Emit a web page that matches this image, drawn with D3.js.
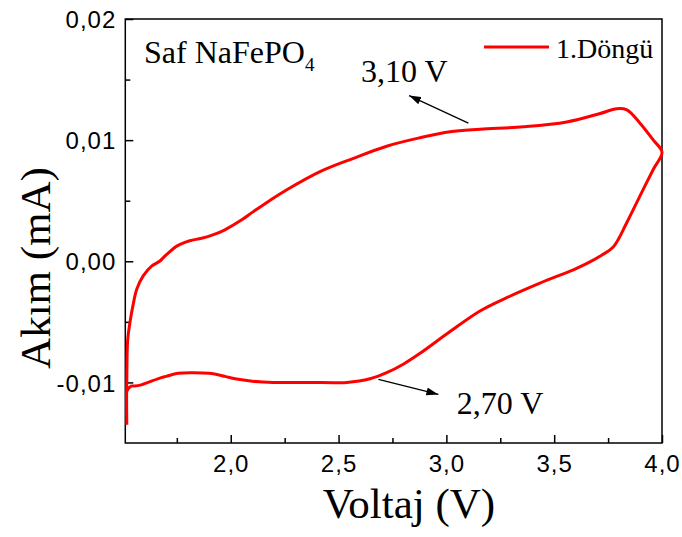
<!DOCTYPE html>
<html><head><meta charset="utf-8">
<script src="https://cdn.jsdelivr.net/npm/d3@7"></script>
<style>body{margin:0;background:#fff}svg{display:block}</style>
</head><body>
<svg id="c" width="682" height="537"></svg>
<script>
// Data (voltage in V, current in mA), one continuous CV loop
const voltage = [1.518,1.517,1.518,1.522,1.533,1.546,1.564,1.594,1.633,1.670,1.693,1.745,1.765,1.81,1.865,1.92,1.973,2.04,2.105,2.18,2.26,2.414,2.569,2.723,2.878,3.017,3.156,3.357,3.558,3.713,3.790,3.837,3.898,3.960,4.0,
  3.960,3.898,3.837,3.775,3.72,3.65,3.589,3.434,3.280,3.156,3.017,2.878,2.80,2.723,2.646,2.538,2.36,2.197,2.10,2.020,1.973,1.90,1.82,1.755,1.70,1.678,1.616,1.585,1.555,1.538,1.519,1.516];
const current = [-0.0135,-0.0110,-0.0098,-0.0065,-0.0050,-0.0037,-0.0023,-0.0012,-0.0004,0.0000,0.0004,0.0012,0.0014,0.0017,0.0019,0.0022,0.0026,0.0033,0.0041,0.0050,0.0059,0.0074,0.0085,0.0095,0.0102,0.0107,0.0109,0.0111,0.0115,0.0122,0.0126,0.0125,0.0114,0.0100,0.0090,
  0.0076,0.0054,0.0032,0.0012,0.0005,-0.0002,-0.0007,-0.0018,-0.0030,-0.0041,-0.0058,-0.0076,-0.0085,-0.0092,-0.0097,-0.0100,-0.0100,-0.0100,-0.0099,-0.0097,-0.0095,-0.00925,-0.0092,-0.00925,-0.0095,-0.0096,-0.0100,-0.0102,-0.0103,-0.0103,-0.0107,-0.0112];
const xMajor = [2.0,2.5,3.0,3.5,4.0];
const xMinor = [1.75,2.25,2.75,3.25,3.75];
const yMajor = [-0.01,0.0,0.01,0.02];
const yMinor = [-0.005,0.005,0.015];
const seriesName = "1.Döngü";
const annotations = [
  {label:"3,10 V", tail:[3.102,0.0114], tip:[2.827,0.01368], text:[2.604,0.0148]},
  {label:"2,70 V", tail:[2.685,-0.00975], tip:[2.963,-0.01099], text:[3.048,-0.01263]}
];

const svg = d3.select("#c");
const L=125.3, R=662, T=19, B=443;
const x = d3.scaleLinear().domain([1.511,4.0]).range([L,R]);
const y = d3.scaleLinear().domain([-0.015,0.02]).range([B,T]);
const fmt = d => d3.format(".1f")(d).replace(".",",");
const fmtY = d => d3.format(".2f")(d).replace("\u2212","-").replace(".",",").replace("-0,00","0,00");

svg.append("defs").append("marker").attr("id","ah").attr("viewBox","0 0 12 8")
  .attr("refX",12).attr("refY",4).attr("markerWidth",12).attr("markerHeight",8)
  .attr("markerUnits","userSpaceOnUse").attr("orient","auto")
  .append("path").attr("d","M0,0L12,4L0,8Z").attr("fill","#000");

// frame
svg.append("rect").attr("x",L).attr("y",T).attr("width",R-L).attr("height",B-T)
  .attr("fill","none").attr("stroke","#000").attr("stroke-width",1.5);

// axes
const gx = svg.append("g").attr("transform",`translate(0,${B})`)
  .call(d3.axisBottom(x).tickValues(xMajor).tickFormat(fmt).tickSizeInner(-8).tickSizeOuter(0).tickPadding(18));
const gxm = svg.append("g").attr("transform",`translate(0,${B})`)
  .call(d3.axisBottom(x).tickValues(xMinor).tickFormat("").tickSizeInner(-5).tickSizeOuter(0));
const gy = svg.append("g").attr("transform",`translate(${L},0)`)
  .call(d3.axisLeft(y).tickValues(yMajor).tickFormat(fmtY).tickSizeInner(-8).tickSizeOuter(0).tickPadding(9));
const gym = svg.append("g").attr("transform",`translate(${L},0)`)
  .call(d3.axisLeft(y).tickValues(yMinor).tickFormat("").tickSizeInner(-5).tickSizeOuter(0));
[gx,gxm,gy,gym].forEach(g=>{
  g.select(".domain").remove();
  g.selectAll(".tick line").attr("stroke","#000").attr("stroke-width",1.5);
  g.selectAll("text").attr("font-family","Liberation Sans, Arial, sans-serif")
   .attr("font-size",24).attr("fill","#000").attr("letter-spacing","1px");
});
gx.selectAll(".tick text").attr("dy","0.71em").attr("y",8+4);
gy.selectAll(".tick text").attr("dy","0.36em");

// curve
const pts = voltage.map((v,i)=>[v,current[i]]);
svg.append("path").datum(pts)
  .attr("d",d3.line().x(d=>x(d[0])).y(d=>y(d[1])).curve(d3.curveCatmullRom.alpha(0.5)))
  .attr("fill","none").attr("stroke","#ff0000").attr("stroke-width",3).attr("stroke-linejoin","round");

// annotations
annotations.forEach(a=>{
  svg.append("line").attr("x1",x(a.tail[0])).attr("y1",y(a.tail[1]))
    .attr("x2",x(a.tip[0])).attr("y2",y(a.tip[1]))
    .attr("stroke","#000").attr("stroke-width",1.3).attr("marker-end","url(#ah)");
  svg.append("text").attr("x",x(a.text[0])).attr("y",y(a.text[1]))
    .attr("font-family","Liberation Serif, Times New Roman, serif").attr("font-size",32)
    .attr("fill","#000").text(a.label);
});

// sample label
const st = svg.append("text").attr("x",144).attr("y",63)
  .attr("font-family","Liberation Serif, Times New Roman, serif").attr("font-size",32).attr("fill","#000");
st.append("tspan").text("Saf NaFePO");
st.append("tspan").attr("font-size",19).attr("dy",8).text("4");

// legend
svg.append("line").attr("x1",484).attr("x2",549).attr("y1",47).attr("y2",47)
  .attr("stroke","#ff0000").attr("stroke-width",3);
svg.append("text").attr("x",556).attr("y",58)
  .attr("font-family","Liberation Serif, Times New Roman, serif").attr("font-size",28)
  .attr("fill","#000").text(seriesName);

// axis titles
svg.append("text").attr("x",409).attr("y",518).attr("text-anchor","middle")
  .attr("font-family","Liberation Serif, Times New Roman, serif").attr("font-size",43)
  .attr("fill","#000").text("Voltaj (V)");
svg.append("text").attr("transform","translate(50,268) rotate(-90)").attr("text-anchor","middle")
  .attr("font-family","Liberation Serif, Times New Roman, serif").attr("font-size",43)
  .attr("fill","#000").text("Akım (mA)");
</script>
</body></html>
